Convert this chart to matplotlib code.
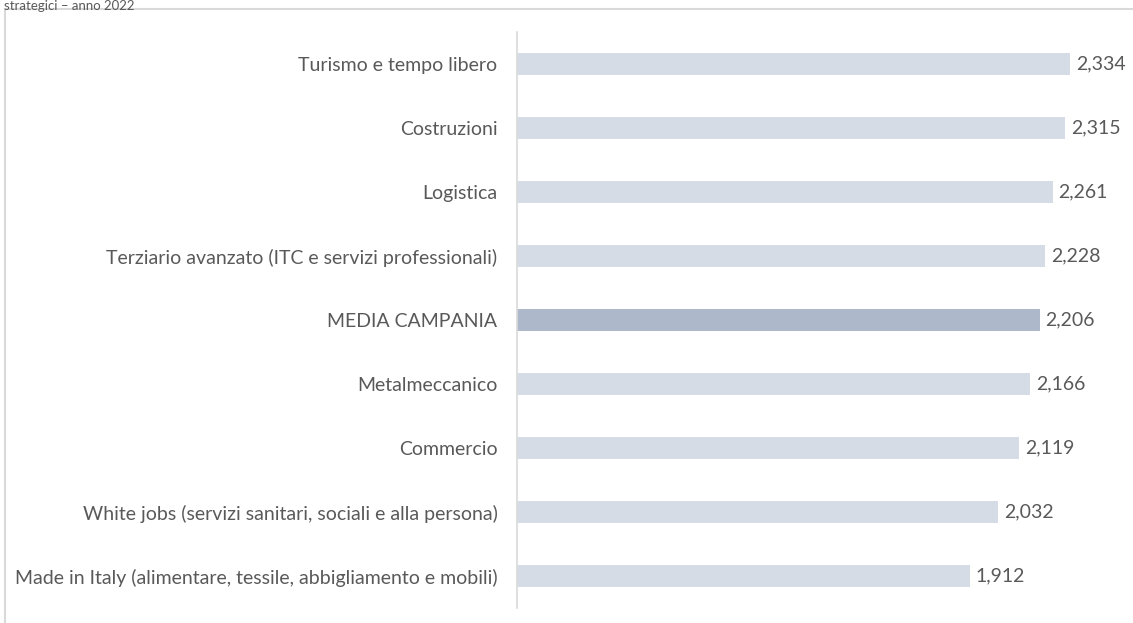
import matplotlib
matplotlib.use('Agg')
import matplotlib.pyplot as plt
from matplotlib.patches import Rectangle

# --- dati ---
settori = [
    "Turismo e tempo libero",
    "Costruzioni",
    "Logistica",
    "Terziario avanzato (ITC e servizi professionali)",
    "MEDIA CAMPANIA",
    "Metalmeccanico",
    "Commercio",
    "White jobs (servizi sanitari, sociali e alla persona)",
    "Made in Italy (alimentare, tessile, abbigliamento e mobili)",
]
valori = [2.334, 2.315, 2.261, 2.228, 2.206, 2.166, 2.119, 2.032, 1.912]
etichette = ["2,334", "2,315", "2,261", "2,228", "2,206", "2,166", "2,119", "2,032", "1,912"]

plt.rcParams['font.family'] = ['Lato', 'DejaVu Sans']
GRIGIO = '#595959'
FS = 14

fig = plt.figure(figsize=(11.33, 6.23), dpi=100)
fig.patch.set_facecolor('white')

# bordo del riquadro (tagliato a destra e in basso)
fig.patches.append(Rectangle((5 / 1133, -0.1), 1.2, 1.1 - 9 / 623,
                             transform=fig.transFigure, fill=False,
                             edgecolor='#D9D9D9', linewidth=1.5))
# titolo (nel riferimento e' quasi tutto fuori dall'immagine)
fig.text(4 / 1133, 1 - 0.5 / 623, "strategici \u2013 anno 2022", fontsize=9.5,
         color=GRIGIO, va='top', ha='left')

ax = fig.add_axes([517 / 1133, 15 / 623, 616 / 1133, 576 / 623])
n = len(settori)
pos = list(range(n))
colori = ['#ADB9CA' if s == "MEDIA CAMPANIA" else '#D6DCE5' for s in settori]
ax.barh(pos, valori, height=0.33, color=colori)
for p, v, e in zip(pos, valori, etichette):
    ax.text(v + 0.025, p, e, va='center', ha='left', fontsize=FS, color=GRIGIO)

ax.set_xlim(0, 2.6)
ax.set_ylim(n - 0.5, -0.5)
ax.set_yticks(pos)
ax.set_yticklabels(settori, fontsize=FS, color=GRIGIO)
ax.tick_params(axis='y', length=0, pad=14)
ax.set_xticks([])
for lato in ['top', 'right', 'bottom']:
    ax.spines[lato].set_visible(False)
ax.spines['left'].set_color('#D9D9D9')
ax.spines['left'].set_linewidth(1.2)

fig.savefig('out.png', dpi=100, facecolor='white')
